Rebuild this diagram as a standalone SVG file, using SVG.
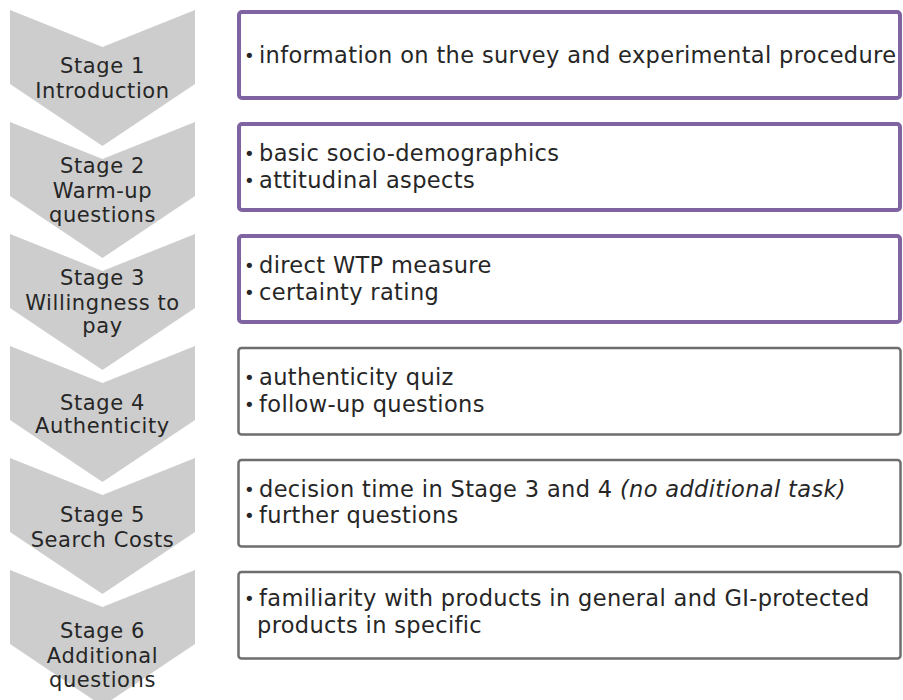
<svg xmlns="http://www.w3.org/2000/svg" width="903" height="700" viewBox="0 0 903 700">
<defs>
<style>
.chev{fill:#cdcdcd;}
.lbl{font-family:"DejaVu Sans",Verdana,sans-serif;font-size:21px;fill:#262626;text-anchor:middle;letter-spacing:0.6px;}
.boxp{fill:#ffffff;stroke:#8064a2;stroke-width:4;}
.boxg{fill:#ffffff;stroke:#6e6e6e;stroke-width:2.5;}
.txt{font-family:"DejaVu Sans",Verdana,sans-serif;font-size:22.5px;fill:#262626;letter-spacing:0.35px;}
.bul{font-family:"DejaVu Sans",Verdana,sans-serif;font-size:18px;fill:#262626;}
</style>
<polygon id="chevShape" points="0,0 92.5,37 185,0 185,74 92.5,136 0,74"/>
</defs>
<rect width="903" height="700" fill="#ffffff"/>

<g id="stage1">
<use href="#chevShape" class="chev" x="10" y="10"/>
<text class="lbl" x="102.5" y="73">Stage 1</text>
<text class="lbl" x="102.5" y="98">Introduction</text>
<rect class="boxp" x="239" y="12" width="661" height="86" rx="3"/>
<text class="bul" x="244" y="62">•</text>
<text class="txt" x="259" y="63">information on the survey and experimental procedure</text>
</g>

<g id="stage2">
<use href="#chevShape" class="chev" x="10" y="122"/>
<text class="lbl" x="102.5" y="173">Stage 2</text>
<text class="lbl" x="102.5" y="198">Warm-up</text>
<text class="lbl" x="102.5" y="222">questions</text>
<rect class="boxp" x="239" y="124" width="661" height="86" rx="3"/>
<text class="bul" x="244" y="160">•</text>
<text class="txt" x="259" y="161">basic socio-demographics</text>
<text class="bul" x="244" y="187">•</text>
<text class="txt" x="259" y="188">attitudinal aspects</text>
</g>

<g id="stage3">
<use href="#chevShape" class="chev" x="10" y="234"/>
<text class="lbl" x="102.5" y="285">Stage 3</text>
<text class="lbl" x="102.5" y="310">Willingness to</text>
<text class="lbl" x="102.5" y="333">pay</text>
<rect class="boxp" x="239" y="236" width="661" height="86" rx="3"/>
<text class="bul" x="244" y="272">•</text>
<text class="txt" x="259" y="273">direct WTP measure</text>
<text class="bul" x="244" y="299">•</text>
<text class="txt" x="259" y="300">certainty rating</text>
</g>

<g id="stage4">
<use href="#chevShape" class="chev" x="10" y="346"/>
<text class="lbl" x="102.5" y="410">Stage 4</text>
<text class="lbl" x="102.5" y="433">Authenticity</text>
<rect class="boxg" x="238.5" y="348" width="662" height="86.5" rx="3"/>
<text class="bul" x="244" y="384">•</text>
<text class="txt" x="259" y="385">authenticity quiz</text>
<text class="bul" x="244" y="411">•</text>
<text class="txt" x="259" y="412">follow-up questions</text>
</g>

<g id="stage5">
<use href="#chevShape" class="chev" x="10" y="458"/>
<text class="lbl" x="102.5" y="522">Stage 5</text>
<text class="lbl" x="102.5" y="547">Search Costs</text>
<rect class="boxg" x="238.5" y="460" width="662" height="86.5" rx="3"/>
<text class="bul" x="244" y="496">•</text>
<text class="txt" x="259" y="497">decision time in Stage 3 and 4 <tspan font-style="italic">(no additional task)</tspan></text>
<text class="bul" x="244" y="522">•</text>
<text class="txt" x="259" y="523">further questions</text>
</g>

<g id="stage6">
<use href="#chevShape" class="chev" x="10" y="570"/>
<text class="lbl" x="102.5" y="638">Stage 6</text>
<text class="lbl" x="102.5" y="663">Additional</text>
<text class="lbl" x="102.5" y="687">questions</text>
<rect class="boxg" x="238.5" y="572" width="662" height="86.5" rx="3"/>
<text class="bul" x="244" y="605">•</text>
<text class="txt" x="259" y="606">familiarity with products in general and GI-protected</text>
<text class="txt" x="257" y="633">products in specific</text>
</g>

<g id="connectors"></g>
</svg>
